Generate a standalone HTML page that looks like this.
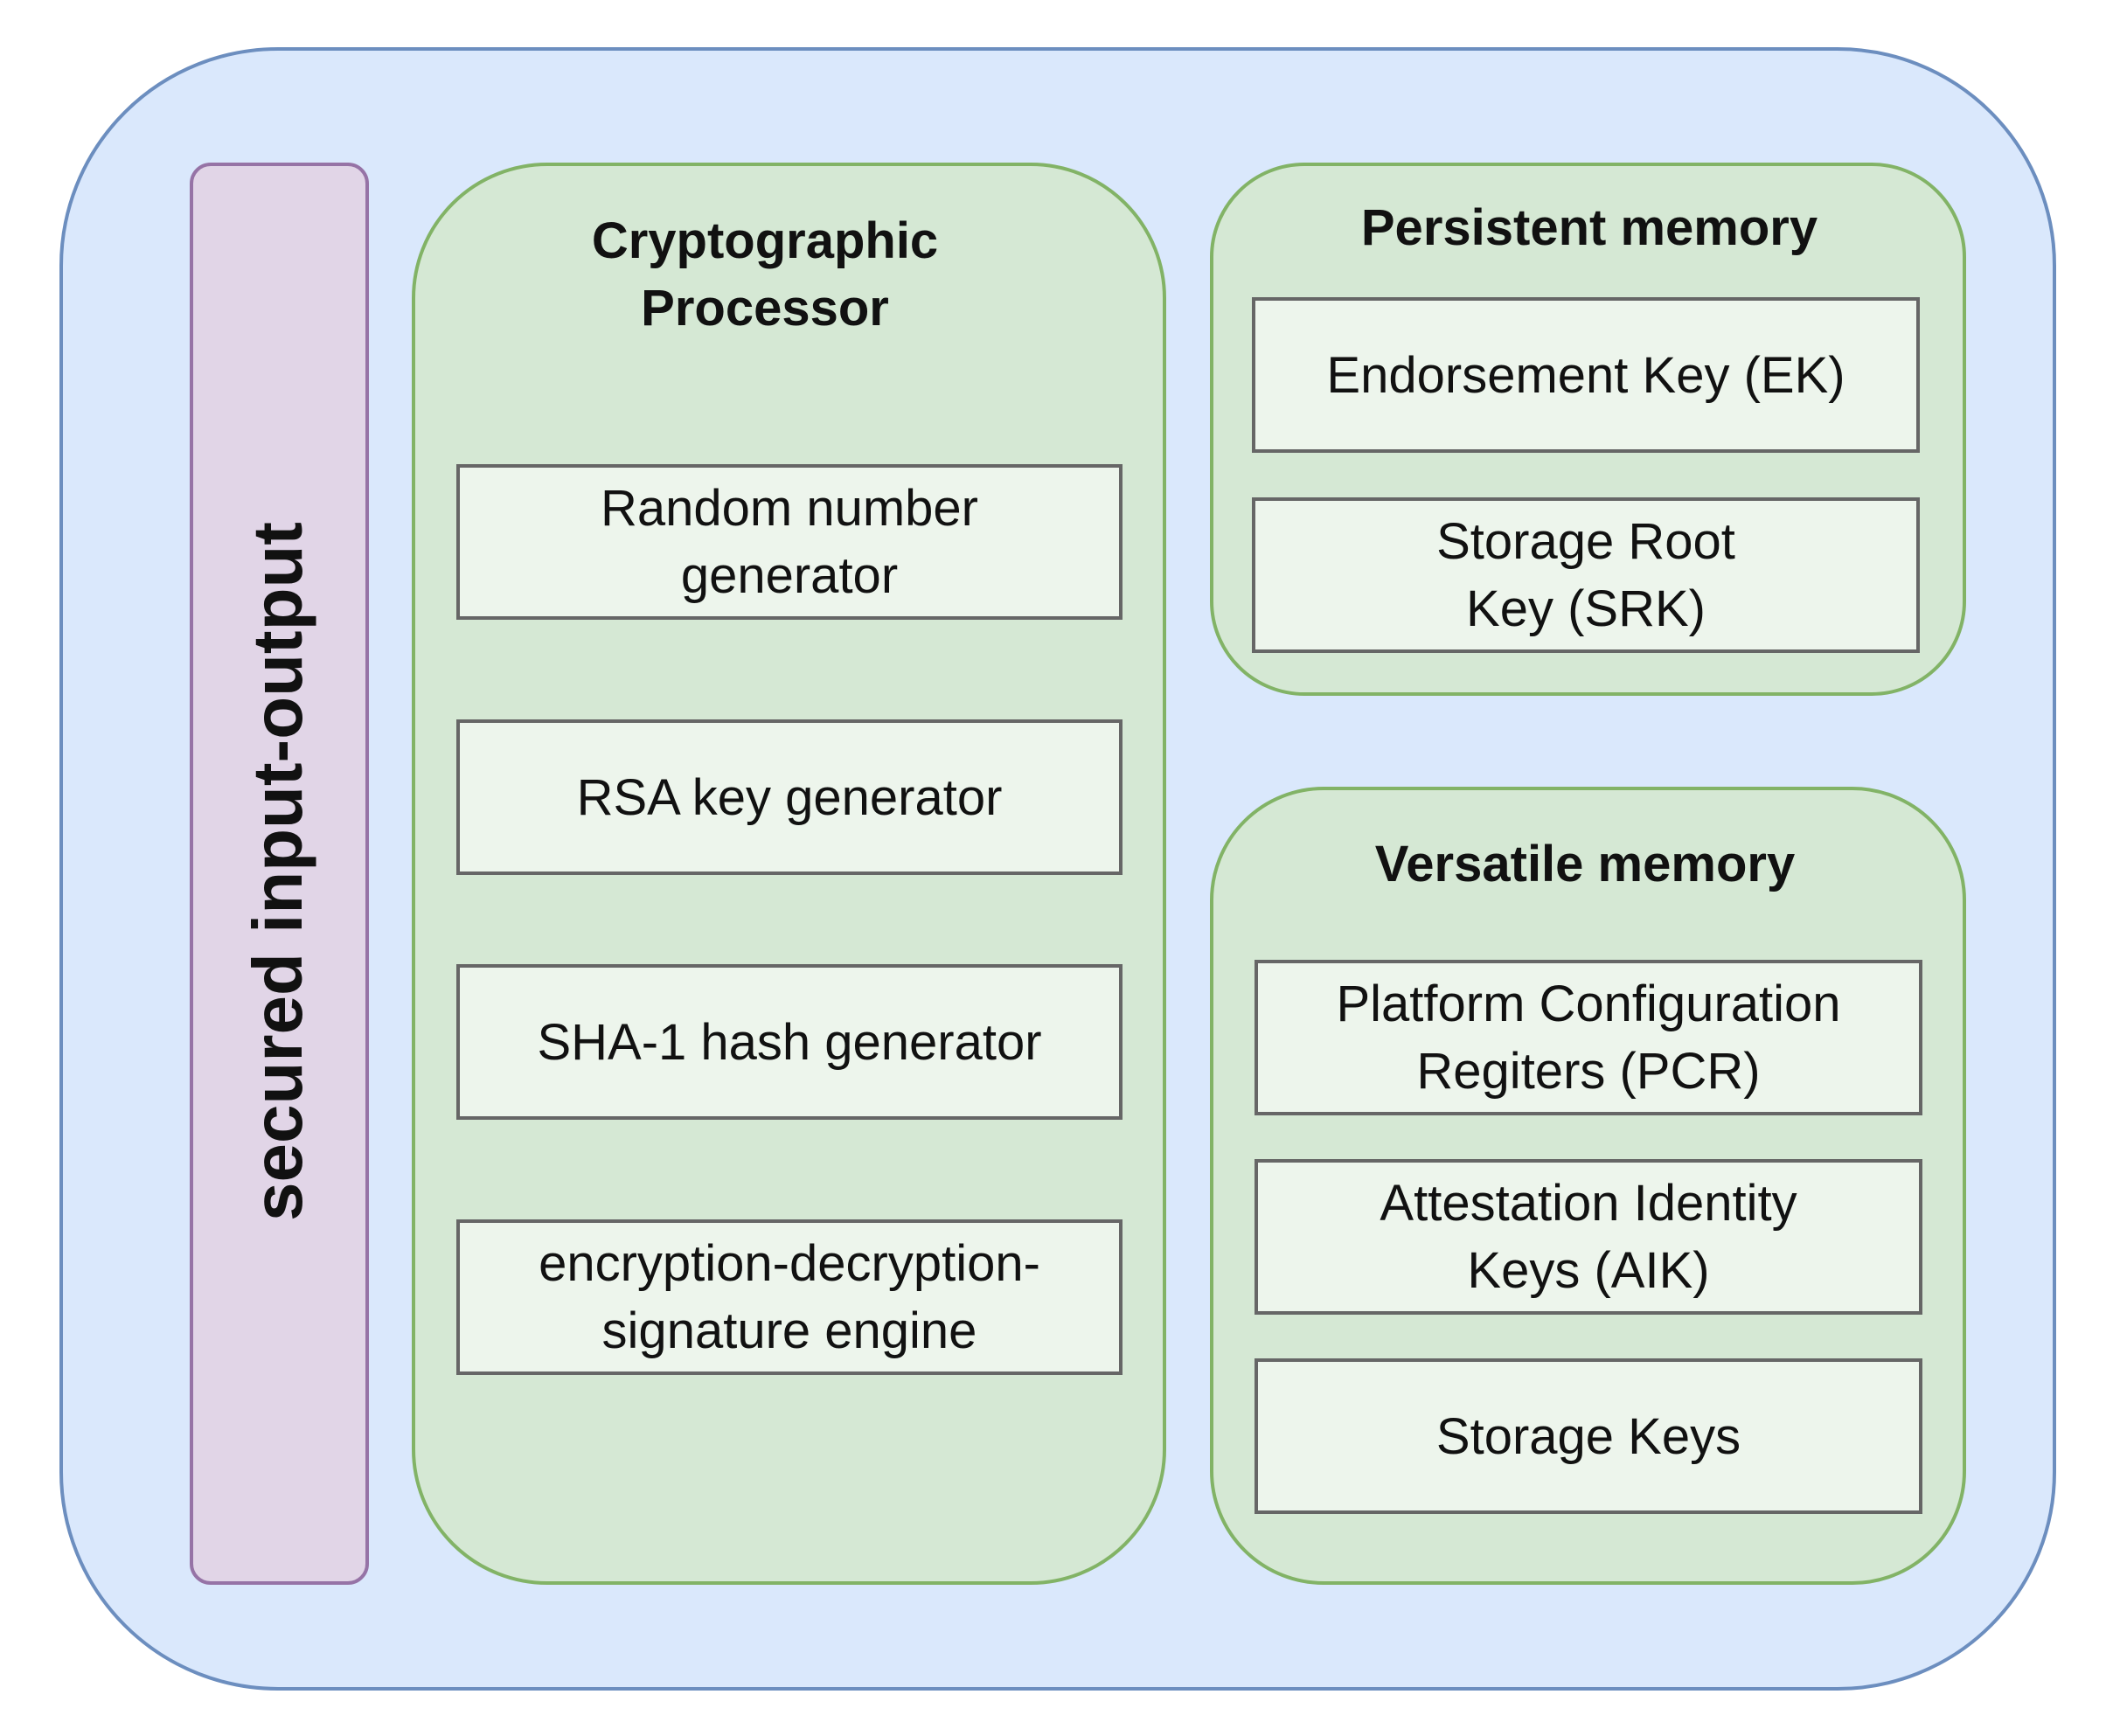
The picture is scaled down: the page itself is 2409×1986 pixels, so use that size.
<!DOCTYPE html>
<html><head><style>
html,body{margin:0;padding:0;background:#fff;}
body{width:2409px;height:1986px;position:relative;overflow:hidden;font-family:"Liberation Sans",Arial,sans-serif;}
.a{position:absolute;box-sizing:border-box;}
.box{background:#edf5ec;border:4px solid #666;display:flex;align-items:center;justify-content:center;text-align:center;font-size:58px;line-height:77px;color:#111;}
.t{position:absolute;font-weight:bold;font-size:58px;line-height:77px;text-align:center;color:#111;}
</style></head><body>
<div class="a" style="left:68px;top:54px;width:2284px;height:1880px;background:#dae8fc;border:4px solid #6c8ebf;border-radius:250px;"></div>
<div class="a" style="left:217px;top:186px;width:205px;height:1627px;background:#e1d5e7;border:4px solid #9673a6;border-radius:24px;"></div>
<div class="a" style="left:318px;top:997px;width:0;height:0;">
 <div style="position:absolute;left:-500px;top:-48px;width:1000px;text-align:center;font-weight:bold;font-size:80px;line-height:96px;transform:rotate(-90deg);color:#111;">secured input-output</div>
</div>
<div class="a" style="left:471px;top:186px;width:863px;height:1627px;background:#d5e8d4;border:4px solid #82b366;border-radius:155px;"></div>
<div class="a" style="left:1384px;top:186px;width:865px;height:610px;background:#d5e8d4;border:4px solid #82b366;border-radius:108px;"></div>
<div class="a" style="left:1384px;top:900px;width:865px;height:913px;background:#d5e8d4;border:4px solid #82b366;border-radius:130px;"></div>
<div class="t" style="left:575px;top:237px;width:600px;">Cryptographic<br>Processor</div>
<div class="t" style="left:1418px;top:222px;width:800px;">Persistent memory</div>
<div class="t" style="left:1413px;top:950px;width:800px;">Versatile memory</div>
<div class="a box" style="left:522px;top:531px;width:762px;height:178px;">Random number<br>generator</div>
<div class="a box" style="left:522px;top:823px;width:762px;height:178px;">RSA key generator</div>
<div class="a box" style="left:522px;top:1103px;width:762px;height:178px;">SHA-1 hash generator</div>
<div class="a box" style="left:522px;top:1395px;width:762px;height:178px;">encryption-decryption-<br>signature engine</div>
<div class="a box" style="left:1432px;top:340px;width:764px;height:178px;">Endorsement Key (EK)</div>
<div class="a box" style="left:1432px;top:569px;width:764px;height:178px;">Storage Root<br>Key (SRK)</div>
<div class="a box" style="left:1435px;top:1098px;width:764px;height:178px;">Platform Configuration<br>Regiters (PCR)</div>
<div class="a box" style="left:1435px;top:1326px;width:764px;height:178px;">Attestation Identity<br>Keys (AIK)</div>
<div class="a box" style="left:1435px;top:1554px;width:764px;height:178px;">Storage Keys</div>
</body></html>
